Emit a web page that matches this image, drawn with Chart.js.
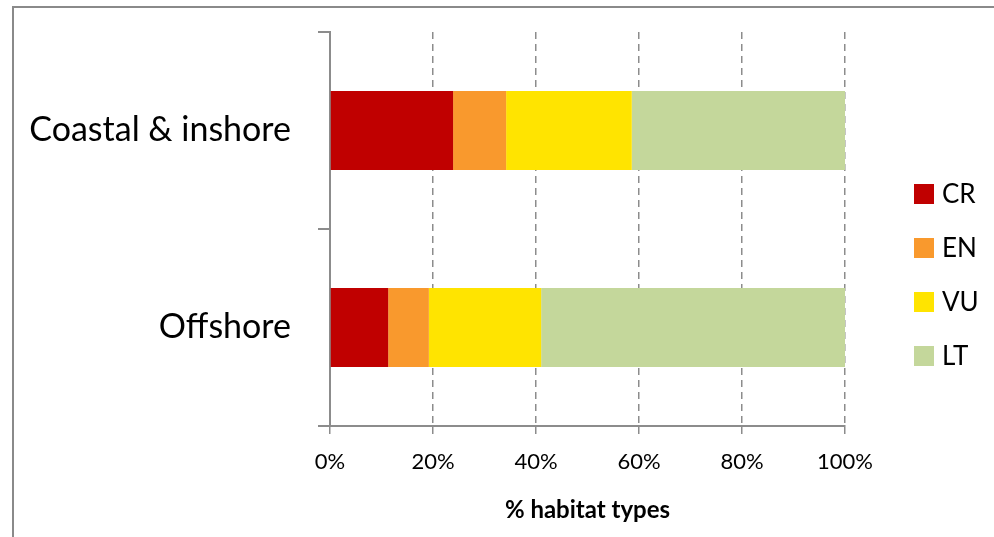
<!DOCTYPE html>
<html>
<head>
<meta charset="utf-8">
<script src="https://cdn.jsdelivr.net/npm/chart.js@4/dist/chart.umd.min.js"></script>
<style>
  html, body { margin: 0; padding: 0; background: #ffffff; overflow: hidden; }
  #wrap { position: relative; width: 994px; height: 537px; }
</style>
</head>
<body>
<div id="wrap"><canvas id="chart" width="994" height="537"></canvas></div>
<script>
// Share of habitat types in each threat category (%)
const categories = ['Coastal & inshore', 'Offshore'];
const seriesNames = ['CR', 'EN', 'VU', 'LT'];
const crValues = [23.9, 11.3];
const enValues = [10.3, 7.9];
const vuValues = [24.4, 21.8];
const ltValues = [41.4, 59.0];
const xTickValues = [0, 20, 40, 60, 80, 100];
const xTitle = '% habitat types';

const seriesColors = ['#C00000', '#F9992D', '#FFE400', '#C4D79B'];
const seriesValues = [crValues, enValues, vuValues, ltValues];

const FONT = 'Lato, "Open Sans", "DejaVu Sans", sans-serif';
const AXIS_GREY = '#8c8c8c';

// Thin grey frame around the whole chart
const framePlugin = {
  id: 'frame',
  beforeDraw(chart) {
    const ctx = chart.ctx;
    ctx.save();
    ctx.fillStyle = '#ffffff';
    ctx.fillRect(0, 0, chart.width, chart.height);
    ctx.strokeStyle = '#8a8a8a';
    ctx.lineWidth = 2;
    ctx.beginPath();
    ctx.moveTo(chart.width + 2, 7);
    ctx.lineTo(13, 7);
    ctx.lineTo(13, chart.height + 2);
    ctx.stroke();
    ctx.restore();
  }
};

// Vertical legend to the right of the plot
const sideLegend = {
  id: 'sideLegend',
  afterDraw(chart) {
    const ctx = chart.ctx;
    const x0 = chart.chartArea.right + 69;
    const yStart = 194;
    const step = 54;
    ctx.save();
    ctx.font = '26px ' + FONT;
    ctx.textBaseline = 'middle';
    ctx.textAlign = 'left';
    chart.data.datasets.forEach((ds, i) => {
      const cy = yStart + i * step;
      ctx.fillStyle = ds.backgroundColor;
      ctx.fillRect(x0, cy - 10, 20, 20);
      ctx.fillStyle = '#000000';
      ctx.fillText(ds.label, x0 + 28, cy + 1);
    });
    ctx.restore();
  }
};

const datasets = seriesNames.map((name, i) => ({
  label: name,
  data: seriesValues[i],
  backgroundColor: seriesColors[i],
  borderWidth: 0,
  categoryPercentage: 1.0,
  barPercentage: 0.4
}));

new Chart(document.getElementById('chart'), {
  type: 'bar',
  data: { labels: categories, datasets },
  options: {
    indexAxis: 'y',
    responsive: false,
    animation: false,
    layout: { padding: { top: 32, right: 149, bottom: 0, left: 0 } },
    plugins: {
      legend: { display: false },
      tooltip: { enabled: false }
    },
    scales: {
      x: {
        stacked: true,
        min: 0,
        max: 100,
        afterBuildTicks(scale) {
          scale.ticks = xTickValues.map(v => ({ value: v }));
        },
        afterFit(scale) { scale.height = 111; },
        ticks: {
          color: '#000000',
          font: { family: FONT, size: 22 },
          padding: 11,
          callback: v => v + '%'
        },
        grid: {
          color: AXIS_GREY,
          lineWidth: 1.5,
          tickLength: 12,
          drawTicks: true,
          tickBorderDash: [7, 5]
        },
        border: { display: true, color: AXIS_GREY, width: 2, dash: [7, 5] },
        title: {
          display: true,
          text: xTitle,
          color: '#000000',
          font: { family: FONT, size: 24, weight: 'bold' },
          padding: { top: 0, bottom: 12 }
        }
      },
      y: {
        stacked: true,
        afterFit(scale) {
          scale.width = 330;
          scale.paddingTop = 0;
          scale.paddingBottom = 0;
        },
        ticks: {
          color: '#000000',
          font: { family: FONT, size: 34 },
          padding: 27
        },
        grid: {
          offset: true,
          drawOnChartArea: false,
          color: AXIS_GREY,
          lineWidth: 2,
          tickLength: 12
        },
        border: { display: true, color: AXIS_GREY, width: 2 }
      }
    }
  },
  plugins: [framePlugin, sideLegend]
});
</script>
</body>
</html>
